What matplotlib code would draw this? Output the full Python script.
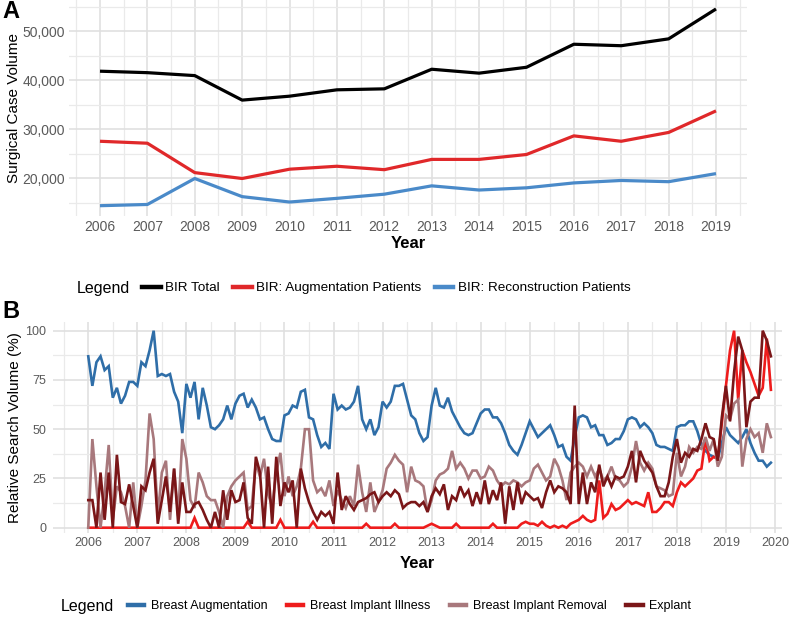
import numpy as np
import matplotlib
matplotlib.use("Agg")
import matplotlib.pyplot as plt
from matplotlib.ticker import MultipleLocator, FuncFormatter
from matplotlib.lines import Line2D

plt.rcParams['font.family'] = ['Liberation Sans', 'DejaVu Sans']

# ---- Panel A: annual surgical case volume ----
years_a = [2006, 2007, 2008, 2009, 2010, 2011, 2012, 2013, 2014, 2015, 2016, 2017, 2018, 2019]
bir_total = [41800, 41500, 40900, 35900, 36700, 38000, 38200, 42200, 41400, 42600, 47300, 47000, 48400, 54500]
bir_augmentation = [27500, 27100, 21100, 19900, 21800, 22400, 21700, 23800, 23800, 24800, 28600, 27500, 29300, 33700]
bir_reconstruction = [14350, 14600, 19900, 16200, 15100, 15850, 16700, 18400, 17550, 18000, 19000, 19500, 19250, 20900]

# ---- Panel B: monthly relative search volume, Jan 2006 - Dec 2019 ----
start_year_b = 2006
breast_augmentation = [
    87, 72, 84, 87, 80, 82, 66, 71, 63, 67, 74, 74,
    72, 84, 82, 90, 100, 77, 78, 77, 78, 69, 64, 48,
    73, 66, 74, 55, 71, 62, 51, 50, 52, 55, 62, 55,
    63, 67, 68, 61, 65, 61, 55, 56, 50, 45, 44, 44,
    57, 58, 62, 61, 69, 70, 56, 55, 47, 41, 43, 40,
    68, 60, 62, 60, 61, 64, 72, 55, 50, 55, 47, 51,
    64, 61, 64, 72, 72, 73, 65, 57, 55, 48, 44, 46,
    62, 71, 62, 61, 66, 59, 55, 51, 48, 47, 48, 53,
    58, 60, 60, 56, 56, 53, 48, 42, 39, 37, 42, 48,
    54, 50, 46, 48, 50, 52, 47, 41, 42, 36, 34, 46,
    56, 57, 56, 51, 52, 47, 47, 42, 43, 45, 45, 49,
    55, 56, 55, 51, 53, 51, 48, 42, 41, 41, 40, 39,
    51, 52, 52, 54, 54, 49, 42, 39, 37, 36, 35, 43,
    51, 47, 45, 43, 46, 50, 43, 38, 34, 34, 31, 33,
]
breast_implant_illness = [
    0, 0, 0, 0, 0, 0, 0, 0, 0, 0, 0, 0,
    0, 0, 0, 0, 0, 0, 0, 0, 0, 0, 0, 0,
    0, 0, 5, 0, 0, 0, 0, 0, 0, 0, 0, 0,
    0, 0, 0, 3, 0, 0, 0, 0, 0, 0, 0, 4,
    0, 0, 0, 0, 0, 0, 0, 3, 0, 0, 0, 0,
    0, 0, 0, 0, 0, 0, 0, 0, 2, 0, 0, 0,
    0, 0, 0, 2, 0, 0, 0, 0, 0, 0, 0, 1,
    2, 1, 0, 0, 0, 0, 2, 0, 0, 0, 0, 0,
    0, 0, 0, 2, 0, 0, 0, 0, 0, 0, 2, 3,
    2, 2, 1, 3, 1, 0, 1, 0, 1, 0, 2, 3,
    4, 6, 4, 3, 4, 24, 5, 7, 12, 9, 10, 12,
    14, 12, 13, 12, 11, 18, 8, 8, 10, 13, 13, 11,
    18, 23, 21, 23, 25, 29, 30, 45, 34, 36, 35, 53,
    72, 90, 100, 65, 90, 84, 79, 73, 67, 71, 96, 70,
]
breast_implant_removal = [
    0, 45, 21, 0, 18, 42, 4, 21, 18, 11, 0, 23,
    0, 11, 24, 58, 45, 6, 28, 34, 4, 30, 6, 45,
    35, 14, 10, 28, 23, 16, 14, 14, 8, 0, 16, 21,
    24, 26, 28, 9, 11, 33, 26, 35, 17, 11, 28, 38,
    16, 26, 16, 21, 30, 50, 50, 24, 18, 20, 16, 24,
    11, 19, 14, 10, 16, 11, 32, 18, 8, 23, 8, 13,
    19, 30, 33, 37, 34, 32, 18, 31, 24, 23, 21, 8,
    14, 24, 27, 28, 30, 39, 30, 33, 30, 25, 29, 29,
    25, 26, 31, 29, 24, 21, 23, 22, 24, 23, 21, 23,
    24, 30, 32, 28, 24, 26, 35, 31, 24, 14, 28, 31,
    33, 31, 26, 31, 26, 30, 24, 26, 31, 25, 24, 21,
    23, 31, 44, 33, 29, 33, 30, 21, 20, 19, 16, 17,
    38, 26, 31, 41, 38, 41, 40, 46, 39, 45, 31, 36,
    57, 55, 63, 65, 31, 45, 50, 46, 48, 38, 53, 46,
]
explant = [
    14, 14, 0, 28, 4, 28, 0, 37, 13, 12, 22, 11,
    0, 21, 19, 28, 35, 2, 14, 26, 8, 30, 2, 23,
    8, 8, 12, 13, 9, 4, 0, 8, 0, 19, 4, 19,
    13, 14, 23, 5, 2, 36, 28, 0, 31, 2, 36, 11,
    23, 18, 24, 0, 30, 20, 13, 8, 4, 8, 6, 8,
    2, 28, 9, 16, 12, 9, 13, 14, 15, 17, 18, 13,
    16, 18, 16, 19, 17, 10, 12, 13, 13, 11, 13, 8,
    16, 20, 17, 22, 9, 16, 14, 21, 16, 19, 11, 18,
    12, 24, 12, 19, 14, 23, 2, 21, 9, 23, 12, 18,
    16, 14, 15, 10, 18, 24, 18, 21, 20, 18, 12, 62,
    12, 28, 12, 23, 18, 32, 21, 26, 21, 26, 25, 26,
    31, 39, 23, 39, 34, 31, 28, 21, 16, 16, 23, 36,
    45, 33, 38, 36, 40, 39, 45, 53, 46, 45, 34, 56,
    72, 54, 79, 97, 90, 51, 64, 66, 66, 100, 95, 87,
]

W, H = 800, 621
fig = plt.figure(figsize=(W / 100, H / 100), dpi=100)


def px_axes(left, top, right, bottom):
    return fig.add_axes([left / W, 1 - bottom / H, (right - left) / W, (bottom - top) / H])


def style_axes(ax):
    for s in ax.spines.values():
        s.set_visible(False)
    ax.grid(which='major', color='#e0e0e0', linewidth=1.2)
    ax.grid(which='minor', color='#eaeaea', linewidth=0.9)
    ax.set_axisbelow(True)
    ax.tick_params(which='both', length=0, colors='#5a5a5a')


# Panel A
axA = px_axes(69, 0, 747, 215.5)
style_axes(axA)
axA.plot(years_a, bir_total, color='#000000', lw=2.3, solid_capstyle='butt')
axA.plot(years_a, bir_augmentation, color='#e0282a', lw=2.3, solid_capstyle='butt')
axA.plot(years_a, bir_reconstruction, color='#4a8ac9', lw=2.3, solid_capstyle='butt')
axA.set_xlim(2005.346, 2019.654)
axA.set_ylim(12350, 56330)
axA.xaxis.set_major_locator(MultipleLocator(1))
axA.xaxis.set_minor_locator(MultipleLocator(0.5))
axA.yaxis.set_minor_locator(MultipleLocator(5000))
axA.set_yticks([20000, 30000, 40000, 50000])
axA.yaxis.set_major_formatter(FuncFormatter(lambda v, p: f"{v:,.0f}"))
axA.tick_params(axis='both', labelsize=10, pad=3)
axA.set_xlabel('Year', fontsize=12, fontweight='bold', labelpad=2)
axA.set_ylabel('Surgical Case Volume', fontsize=11)
axA.yaxis.set_label_coords(-0.0708, 0.5)

# Panel B
x_b = [start_year_b + i / 12 for i in range(len(breast_augmentation))]
axB = px_axes(53, 321.7, 782, 533)
style_axes(axB)
colors_b = ['#2f6ea8', '#ee1c1c', '#a8787c', '#7a1618']
series_b = [breast_augmentation, breast_implant_illness, breast_implant_removal, explant]
for vals, c in zip(series_b, colors_b):
    axB.plot(x_b, vals, color=c, lw=1.9, solid_joinstyle='miter')
axB.set_xlim(2005.281, 2020.143)
axB.set_ylim(-2.69, 104.57)
axB.set_xticks(range(2006, 2021))
axB.xaxis.set_minor_locator(MultipleLocator(0.5))
axB.set_yticks([0, 25, 50, 75, 100])
axB.yaxis.set_minor_locator(MultipleLocator(12.5))
axB.tick_params(axis='both', labelsize=9, pad=3)
axB.tick_params(axis='y', pad=5)
axB.set_xlabel('Year', fontsize=12, fontweight='bold', labelpad=5)
axB.set_ylabel('Relative Search Volume (%)', fontsize=11)
axB.yaxis.set_label_coords(-0.0425, 0.5)

# Legends
labels_a = ['BIR Total', 'BIR: Augmentation Patients', 'BIR: Reconstruction Patients']
handles_a = [Line2D([], [], color=c, lw=3.2) for c in ['#000000', '#e0282a', '#4a8ac9']]
fig.text(77 / W, 1 - 288 / H, 'Legend', fontsize=11.5, va='center', ha='left')
fig.legend(handles_a, labels_a, ncol=3, loc='center left', bbox_to_anchor=(142 / W, 1 - 288 / H),
           frameon=False, fontsize=9.7, handlelength=1.4, handletextpad=0.3,
           columnspacing=1.0, borderpad=0, borderaxespad=0)

labels_b = ['Breast Augmentation', 'Breast Implant Illness', 'Breast Implant Removal', 'Explant']
handles_b = [Line2D([], [], color=c, lw=3.2) for c in colors_b]
fig.text(61 / W, 1 - 606 / H, 'Legend', fontsize=11.5, va='center', ha='left')
fig.legend(handles_b, labels_b, ncol=4, loc='center left', bbox_to_anchor=(128 / W, 1 - 606 / H),
           frameon=False, fontsize=9, handlelength=1.3, handletextpad=0.55,
           columnspacing=1.55, borderpad=0, borderaxespad=0)

# Panel letters
fig.text(2 / W, 1 - 12 / H, 'A', fontsize=17, fontweight='bold', va='center', ha='left')
fig.text(2 / W, 1 - 312 / H, 'B', fontsize=17, fontweight='bold', va='center', ha='left')

fig.savefig('out.png', dpi=100)
